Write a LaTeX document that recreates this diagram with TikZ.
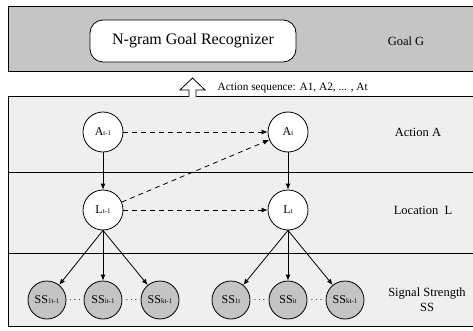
\documentclass[tikz,border=0pt]{standalone}
\usepackage{fontspec}
\setmainfont{Liberation Serif}
\usepackage{xcolor}
\usetikzlibrary{arrows.meta}

\definecolor{goalgray}{RGB}{197,197,197}
\definecolor{layergray}{RGB}{239,239,239}
\definecolor{obsgray}{RGB}{196,196,196}
\newcommand{\idx}[1]{{\fontsize{7}{7}\selectfont #1}}

\tikzset{
    state/.style={circle, draw, fill=white, minimum size=40pt, inner sep=0pt, font=\fontsize{12}{12}\selectfont},
    obs/.style={circle, draw, fill=obsgray, minimum size=38pt, inner sep=0pt, font=\fontsize{12}{12}\selectfont},
    layerlabel/.style={font=\fontsize{12.5}{15}\selectfont, align=center},
    link/.style={-{Latex[length=6pt,width=5pt]}},
    temporal/.style={link, dash pattern=on 5pt off 4pt},
}

\begin{document}
\begin{tikzpicture}[x=1pt, y=-1pt, line width=0.8pt]
    \useasboundingbox (0,0) rectangle (473,331);

    % layers
    \fill[goalgray] (8,7) rectangle (473,72);
    \draw[line width=1pt] (473,7) -- (8,7) -- (8,72) -- (473,72);
    \fill[layergray] (8,97) rectangle (473,326);
    \draw[line width=1pt] (473,97) -- (8,97) -- (8,326) -- (473,326);
    \draw[line width=1pt] (8,172) -- (473,172);
    \draw[line width=1pt] (8,253) -- (473,253);

    % goal layer
    \node[draw, fill=white, rounded corners=13pt, minimum width=206pt, minimum height=42pt,
          font=\fontsize{16}{16}\selectfont] (rec) at (193,41) {N-gram Goal Recognizer};
    \node[layerlabel] (goal) at (406,41) {Goal G};

    % hollow arrow
    \draw[fill=white, line width=0.8pt] (189,97) -- (189,90) -- (180,90) -- (192.5,78)
        -- (205,90) -- (196,90) -- (196,97);
    \node[anchor=west, font=\fontsize{11.3}{12}\selectfont] (seq) at (214,88)
        {Action sequence: A1, A2, ... , At};

    % states
    \node[state] (a1) at (103,132) {A\idx{t-1}};
    \node[state] (a2) at (288,132) {A\idx{t}};
    \node[state] (l1) at (103,210) {L\idx{t-1}};
    \node[state] (l2) at (288,210) {L\idx{t}};

    % observations
    \node[obs] (s11) at (47,300) {SS\idx{1t-1}};
    \node[obs] (s12) at (103,300) {SS\idx{it-1}};
    \node[obs] (s13) at (160,300) {SS\idx{kt-1}};
    \node[obs] (s21) at (231,300) {SS\idx{1t}};
    \node[obs] (s22) at (288,300) {SS\idx{it}};
    \node[obs] (s23) at (345,300) {SS\idx{kt-1}};
    \node (d1) at (75,300) {$\cdots$};
    \node (d2) at (131.5,300) {$\cdots$};
    \node (d3) at (259.5,300) {$\cdots$};
    \node (d4) at (316.5,300) {$\cdots$};

    % labels
    \node[layerlabel] (lact) at (418,132) {Action A};
    \node[layerlabel] (lloc) at (423,210) {Location~ L};
    \node[layerlabel] (lsig) at (427,300) {Signal Strength\\SS};

    % edges
    \draw[temporal] (a1) -- (a2);
    \draw[temporal] (l1) -- (a2);
    \draw[temporal] (l1) -- (l2);
    \draw[link] (a1) -- (l1);
    \draw[link] (a2) -- (l2);
    \draw[link] (l1.south) -- (s11);
    \draw[link] (l1.south) -- (s12);
    \draw[link] (l1.south) -- (s13);
    \draw[link] (l2.south) -- (s21);
    \draw[link] (l2.south) -- (s22);
    \draw[link] (l2.south) -- (s23);
\end{tikzpicture}
\end{document}
